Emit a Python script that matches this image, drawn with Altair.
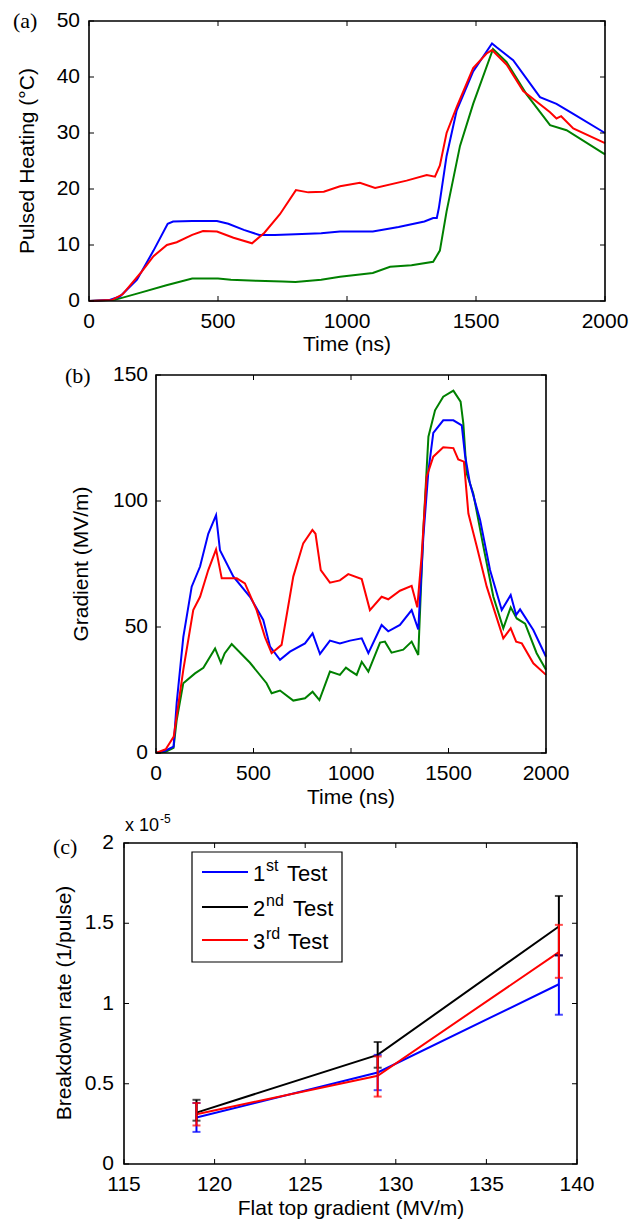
import altair as alt
import pandas as pd

# ---------------- Panel (a): pulsed heating (deg C) vs time (ns) ----------------
a_blue_t = [0, 80, 120, 186, 250, 305, 326, 400, 496, 540, 600, 660, 720, 800, 900, 973, 1100, 1200, 1300, 1334, 1348, 1356, 1386, 1425, 1489, 1562, 1580, 1644, 1748, 1812, 1877, 2000]
a_blue_v = [0, 0.2, 0.8, 3.8, 9, 13.8, 14.2, 14.3, 14.3, 13.8, 12.7, 11.8, 11.8, 11.9, 12.1, 12.4, 12.4, 13.2, 14.2, 14.8, 14.8, 16.6, 25.9, 34, 41, 46, 45.3, 43, 36.4, 35.2, 33.4, 30]
a_red_t = [0, 90, 130, 200, 250, 302, 340, 400, 442, 496, 560, 632, 680, 740, 802, 850, 910, 973, 1050, 1109, 1231, 1309, 1341, 1360, 1386, 1425, 1489, 1541, 1562, 1619, 1683, 1787, 1812, 1830, 1877, 2000]
a_red_v = [0, 0.2, 1.2, 5, 8, 10, 10.5, 11.8, 12.5, 12.4, 11.3, 10.3, 12.2, 15.5, 19.8, 19.4, 19.5, 20.5, 21.1, 20.2, 21.5, 22.5, 22.2, 24.2, 30, 34.6, 41.6, 44.2, 44.8, 42.2, 37.5, 33.7, 32.6, 33, 30.8, 28.2]
a_green_t = [0, 100, 200, 300, 400, 500, 550, 650, 750, 800, 900, 973, 1100, 1167, 1250, 1334, 1360, 1386, 1438, 1489, 1566, 1618, 1696, 1787, 1851, 2000]
a_green_v = [0, 0.2, 1.5, 2.8, 4.0, 4.0, 3.8, 3.6, 3.5, 3.4, 3.8, 4.35, 5.0, 6.1, 6.4, 7.0, 9, 16, 27.7, 35.2, 45, 42.7, 36.9, 31.4, 30.5, 26.2]

# ---------------- Panel (b): gradient (MV/m) vs time (ns) ----------------
b_blue_t = [0, 50, 90, 106, 140, 183, 226, 268, 308, 328, 397, 482, 550, 585, 636, 687, 764, 803, 841, 892, 943, 995, 1055, 1089, 1157, 1191, 1251, 1311, 1345, 1371, 1397, 1422, 1473, 1525, 1568, 1585, 1610, 1662, 1713, 1773, 1819, 1847, 1867, 1935, 2000]
b_blue_v = [0, 1, 2.5, 19.8, 46, 66, 74, 87, 94.4, 80.5, 70, 62, 52.8, 42.2, 37, 40.2, 43.5, 47.5, 39.3, 44.6, 43.5, 44.6, 45.5, 39.6, 50.8, 48.3, 50.8, 56.7, 49, 85.8, 112, 127, 132, 132, 130, 118, 107, 92.5, 72.6, 56.7, 62.7, 54.8, 57, 48.8, 38.2]
b_red_t = [0, 50, 91, 140, 191, 226, 268, 308, 337, 414, 456, 516, 559, 593, 644, 704, 755, 802, 818, 845, 892, 943, 986, 1055, 1097, 1157, 1191, 1251, 1311, 1340, 1362, 1388, 1422, 1473, 1525, 1550, 1579, 1602, 1645, 1696, 1781, 1819, 1847, 1876, 1935, 2000]
b_red_v = [0, 1.5, 6.5, 33, 56.7, 62, 72.6, 80.8, 69.3, 69.3, 67.3, 56.7, 46, 39.6, 42.9, 70, 83.2, 88.5, 87, 72.6, 67.6, 68.5, 71, 69, 56.7, 62, 61, 64.4, 66.3, 57.8, 78, 109.6, 117.6, 121.3, 121, 116.5, 115.6, 95, 81.9, 66, 45.5, 49.5, 44.2, 43.5, 35.6, 31]
b_green_t = [0, 50, 90, 106, 140, 200, 243, 303, 333, 352, 388, 482, 567, 593, 636, 704, 764, 803, 838, 892, 943, 974, 995, 1029, 1055, 1089, 1149, 1174, 1208, 1268, 1311, 1345, 1371, 1397, 1431, 1473, 1525, 1562, 1576, 1593, 1627, 1679, 1730, 1781, 1819, 1850, 1893, 1952, 2000]
b_green_v = [0, 0.5, 2, 13, 27.7, 31.6, 33.8, 41.5, 35.8, 39.5, 43.2, 35.8, 27.7, 23.7, 24.8, 20.8, 21.7, 24.3, 21, 32.3, 31, 33.9, 32.7, 31, 36.2, 32.3, 43.8, 44.2, 39.8, 41, 44.2, 38.9, 88.5, 125.5, 136, 141.4, 143.8, 139.4, 130.8, 111, 103, 81.9, 62, 49.5, 57.8, 53.4, 51.3, 39.6, 33]

# ---------------- Panel (c): breakdown rate (x 1e-5 1/pulse) vs flat top gradient ----------------
c_gradient = [119, 129, 139]
c_tests = ["1st Test", "2nd Test", "3rd Test"]
c_rate = [[0.29, 0.57, 1.12], [0.32, 0.68, 1.48], [0.31, 0.55, 1.32]]
c_lo = [[0.20, 0.46, 0.93], [0.27, 0.60, 1.30], [0.24, 0.42, 1.16]]
c_hi = [[0.38, 0.68, 1.30], [0.40, 0.76, 1.67], [0.38, 0.67, 1.49]]
c_colors = ["#0000ff", "#000000", "#ff0000"]

# tick values / labels
a_xticks = [0, 500, 1000, 1500, 2000]
a_yticks = [0, 10, 20, 30, 40, 50]
b_xticks = [0, 500, 1000, 1500, 2000]
b_yticks = [0, 50, 100, 150]
c_xticks = [115, 120, 125, 130, 135, 140]
c_yticks = [0, 0.5, 1, 1.5, 2]
c_ylabels = ["0", "0.5", "1", "1.5", "2"]

FONT = "Liberation Sans"
SERIF = "Liberation Serif"
FS = 21

# panel geometry (pixel ranges of the plot area inside the single canvas)
PANELS = {
    "a": dict(xdom=[0, 2000], ydom=[0, 50], xr=[81, 597], yr=[293, 13]),
    "b": dict(xdom=[0, 2000], ydom=[0, 150], xr=[148, 538], yr=[745, 367]),
    "c": dict(xdom=[115, 140], ydom=[0, 2], xr=[116, 569], yr=[1156, 835]),
}


def sx(p):
    g = PANELS[p]
    return alt.Scale(domain=g["xdom"], range=g["xr"], nice=False, zero=False)


def sy(p):
    g = PANELS[p]
    return alt.Scale(domain=g["ydom"], range=g["yr"], nice=False, zero=False)


def X(p, f="x"):
    return alt.X(f + ":Q", scale=sx(p), axis=None)


def Y(p, f="y"):
    return alt.Y(f + ":Q", scale=sy(p), axis=None)


def one(**kw):
    return pd.DataFrame({k: [v] for k, v in kw.items()})


def txt(text, x, y, size=FS, font=FONT, align="left", angle=0):
    return alt.Chart(one(t=text)).mark_text(
        font=font, fontSize=size, align=align, baseline="middle", color="black", angle=angle
    ).encode(text="t:N", x=alt.value(x), y=alt.value(y))


def frame_layers(p, xticks, yticks, xlabels, ylabels, ypad, L=5):
    g = PANELS[p]
    x0, x1 = g["xdom"]
    y0, y1 = g["ydom"]
    layers = []
    # box
    layers.append(alt.Chart(one(x=x0, x2=x1, y=y0, y2=y1)).mark_rect(
        fill=None, stroke="black", strokeWidth=1.6).encode(
        x=X(p), x2="x2:Q", y=Y(p), y2="y2:Q"))
    xt = pd.DataFrame({"x": xticks, "y": [y0] * len(xticks), "yt": [y1] * len(xticks), "lab": xlabels})
    yt = pd.DataFrame({"y": yticks, "x": [x0] * len(yticks), "xr": [x1] * len(yticks), "lab": ylabels})
    # inward ticks, bottom/top
    layers.append(alt.Chart(xt).mark_rule(color="black", strokeWidth=1, y2Offset=-L).encode(
        x=X(p), y=Y(p), y2="y:Q"))
    layers.append(alt.Chart(xt).mark_rule(color="black", strokeWidth=1, y2Offset=L).encode(
        x=X(p), y=Y(p, "yt"), y2="yt:Q"))
    # inward ticks, left/right
    layers.append(alt.Chart(yt).mark_rule(color="black", strokeWidth=1, x2Offset=L).encode(
        y=Y(p), x=X(p), x2="x:Q"))
    layers.append(alt.Chart(yt).mark_rule(color="black", strokeWidth=1, x2Offset=-L).encode(
        y=Y(p), x=X(p, "xr"), x2="xr:Q"))
    # tick labels
    layers.append(alt.Chart(xt).mark_text(font=FONT, fontSize=FS, color="black", baseline="middle",
                                          align="center", dy=21).encode(x=X(p), y=Y(p), text="lab:N"))
    layers.append(alt.Chart(yt).mark_text(font=FONT, fontSize=FS, color="black", baseline="middle",
                                          align="right", dx=-ypad).encode(x=X(p), y=Y(p), text="lab:N"))
    return layers


def line_layers(p, series, colors):
    out = []
    for (ts, vs), col in zip(series, colors):
        df = pd.DataFrame({"x": ts, "y": vs})
        out.append(alt.Chart(df).mark_line(color=col, strokeWidth=2).encode(
            x=X(p), y=Y(p), order="x:Q"))
    return out


layers = []

# ---- panel (a)
layers += line_layers("a", [(a_green_t, a_green_v), (a_blue_t, a_blue_v), (a_red_t, a_red_v)],
                      ["#008000", "#0000ff", "#ff0000"])
layers += frame_layers("a", a_xticks, a_yticks, [str(v) for v in a_xticks], [str(v) for v in a_yticks], 9)
layers += [
    txt("(a)", 5, 13, size=22, font=SERIF),
    txt("Pulsed Heating (°C)", 20, 153, align="center", angle=270),
    txt("Time (ns)", 339, 337, align="center"),
]

# ---- panel (b)
layers += line_layers("b", [(b_green_t, b_green_v), (b_blue_t, b_blue_v), (b_red_t, b_red_v)],
                      ["#008000", "#0000ff", "#ff0000"])
layers += frame_layers("b", b_xticks, b_yticks, [str(v) for v in b_xticks], [str(v) for v in b_yticks], 8)
layers += [
    txt("(b)", 57, 368, size=22, font=SERIF),
    txt("Gradient (MV/m)", 74, 556, align="center", angle=270),
    txt("Time (ns)", 343, 790, align="center"),
]

# ---- panel (c)
for k, col in enumerate(c_colors):
    d = pd.DataFrame({"x": c_gradient, "y": c_rate[k], "lo": c_lo[k], "hi": c_hi[k]})
    layers.append(alt.Chart(d).mark_line(color=col, strokeWidth=2).encode(x=X("c"), y=Y("c"), order="x:Q"))
for k, col in enumerate(c_colors):
    d = pd.DataFrame({"x": c_gradient, "lo": c_lo[k], "hi": c_hi[k]})
    layers.append(alt.Chart(d).mark_rule(color=col, strokeWidth=2).encode(x=X("c"), y=Y("c", "lo"), y2="hi:Q"))
    for f in ["lo", "hi"]:
        layers.append(alt.Chart(d).mark_tick(color=col, orient="horizontal", size=8, thickness=2).encode(
            x=X("c"), y=Y("c", f)))
layers += frame_layers("c", c_xticks, c_yticks, [str(v) for v in c_xticks], c_ylabels, 10)
layers += [
    txt("(c)", 45, 839, size=22, font=SERIF),
    txt("x 10", 117, 818, size=18),
    txt("-5", 152, 811, size=12),
    txt("Breakdown rate (1/pulse)", 57, 995, align="center", angle=270),
    txt("Flat top gradient (MV/m)", 343, 1201, align="center"),
]

# legend of panel (c) (superscripts need separate text pieces)
layers.append(alt.Chart(one(k=0)).mark_rect(fill="white", stroke="black", strokeWidth=1.2).encode(
    x=alt.value(184), x2=alt.value(334), y=alt.value(844), y2=alt.value(954)))
leg_main = ["1", "2", "3"]
leg_sup = ["st", "nd", "rd"]
leg_test_x = [279, 285, 280]
leg_y = [864, 899, 932]
for col, m, s, tx, yy in zip(c_colors, leg_main, leg_sup, leg_test_x, leg_y):
    layers.append(alt.Chart(one(k=0)).mark_rule(color=col, strokeWidth=2).encode(
        x=alt.value(194), x2=alt.value(240), y=alt.value(yy)))
    layers.append(txt(m, 245, yy + 2, size=22))
    layers.append(txt(s, 258, yy - 6, size=16))
    layers.append(txt("Test", tx, yy + 2, size=22))

chart = alt.layer(*layers).resolve_scale(x="independent", y="independent").properties(
    width=625, height=1212, padding=0, background="white", autosize=alt.AutoSizeParams(type="none")
).configure_view(stroke=None)

chart.save("out.html", embed_options={"renderer": "svg", "actions": False})
